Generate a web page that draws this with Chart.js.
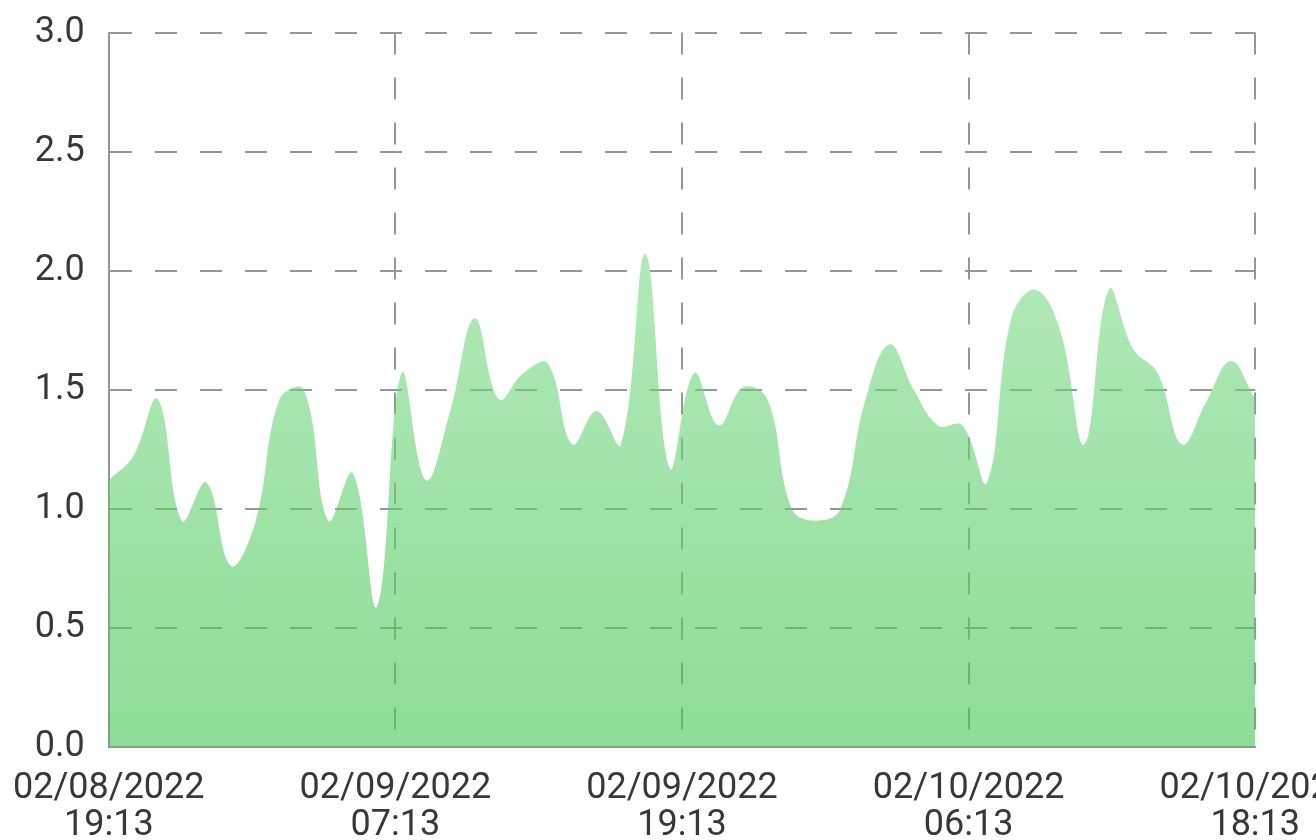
<!DOCTYPE html>
<html>
<head>
<meta charset="utf-8">
<script src="https://cdn.jsdelivr.net/npm/chart.js@4/dist/chart.umd.min.js"></script>
<style>
  html, body { margin: 0; padding: 0; background: #fff; overflow: hidden; }
  #wrap { position: absolute; left: -11px; top: -10px; width: 1386px; height: 879px; }
</style>
</head>
<body>
<div id="wrap"><canvas id="lineChart"></canvas></div>
<script>
// hourly readings, 02/08 19:13 -> 02/10 18:13
var values = [1.12, 1.22, 1.46, 0.95, 1.11, 0.76, 0.94, 1.46, 1.50, 0.95,
              1.15, 0.59, 1.57, 1.12, 1.41, 1.80, 1.46, 1.57, 1.61, 1.27,
              1.41, 1.27, 2.07, 1.17, 1.57, 1.35, 1.51, 1.46, 1.00, 0.95,
              1.00, 1.45, 1.69, 1.50, 1.35, 1.35, 1.11, 1.80, 1.92, 1.75,
              1.27, 1.92, 1.67, 1.57, 1.27, 1.45, 1.62, 1.46];

var tickLabels = [
  ['02/08/2022', '19:13'],
  ['02/09/2022', '07:13'],
  ['02/09/2022', '19:13'],
  ['02/10/2022', '06:13'],
  ['02/10/2022', '18:13']
];

var yTicks = [0, 0.5, 1.0, 1.5, 2.0, 2.5, 3.0];

document.addEventListener("DOMContentLoaded", function() {
  var last = values.length - 1;
  var points = values.map(function(v, i) { return { x: i, y: v }; });

  var gridColor = "rgb(150,150,150)";
  var textColor = "#383838";

  var data = {
    datasets: [{
      data: points,
      fill: "origin",
      borderWidth: 0,
      pointRadius: 0,
      tension: 0.4,
      backgroundColor: function(context) {
        var area = context.chart.chartArea;
        if (!area) return "rgba(100,210,115,0.6)";
        var g = context.chart.ctx.createLinearGradient(0, area.top, 0, area.bottom);
        g.addColorStop(0, "rgba(150,228,162,0.6)");
        g.addColorStop(1, "rgba(67,197,83,0.6)");
        return g;
      }
    }]
  };

  var options = {
    responsive: true,
    maintainAspectRatio: false,
    animation: false,
    layout: { padding: { left: 7, top: 0, right: 0, bottom: 0 } },
    plugins: {
      legend: { display: false },
      tooltip: { enabled: false }
    },
    scales: {
      x: {
        type: "linear",
        min: 0,
        max: last,
        afterBuildTicks: function(scale) {
          scale.ticks = tickLabels.map(function(_, i) {
            return { value: i * last / (tickLabels.length - 1) };
          });
        },
        ticks: {
          autoSkip: false,
          maxRotation: 0,
          padding: 24,
          color: textColor,
          font: { family: "Roboto", size: 36, lineHeight: 1.03 },
          callback: function(value, index) { return tickLabels[index]; }
        },
        grid: { color: gridColor, lineWidth: 2, drawTicks: false },
        border: { display: true, color: gridColor, width: 2, dash: [22, 23] }
      },
      y: {
        min: 0,
        max: 3,
        afterBuildTicks: function(scale) {
          scale.ticks = yTicks.map(function(v) { return { value: v }; });
        },
        ticks: {
          padding: 24,
          color: textColor,
          font: { family: "Roboto", size: 36, lineHeight: 1.03 },
          callback: function(value) { return value.toFixed(1); }
        },
        grid: { color: gridColor, lineWidth: 2, drawTicks: false },
        border: { display: true, color: gridColor, width: 2, dash: [22, 23] }
      }
    }
  };

  var ctx = document.getElementById("lineChart").getContext("2d");
  new Chart(ctx, { type: "line", data: data, options: options });
});
</script>
</body>
</html>
